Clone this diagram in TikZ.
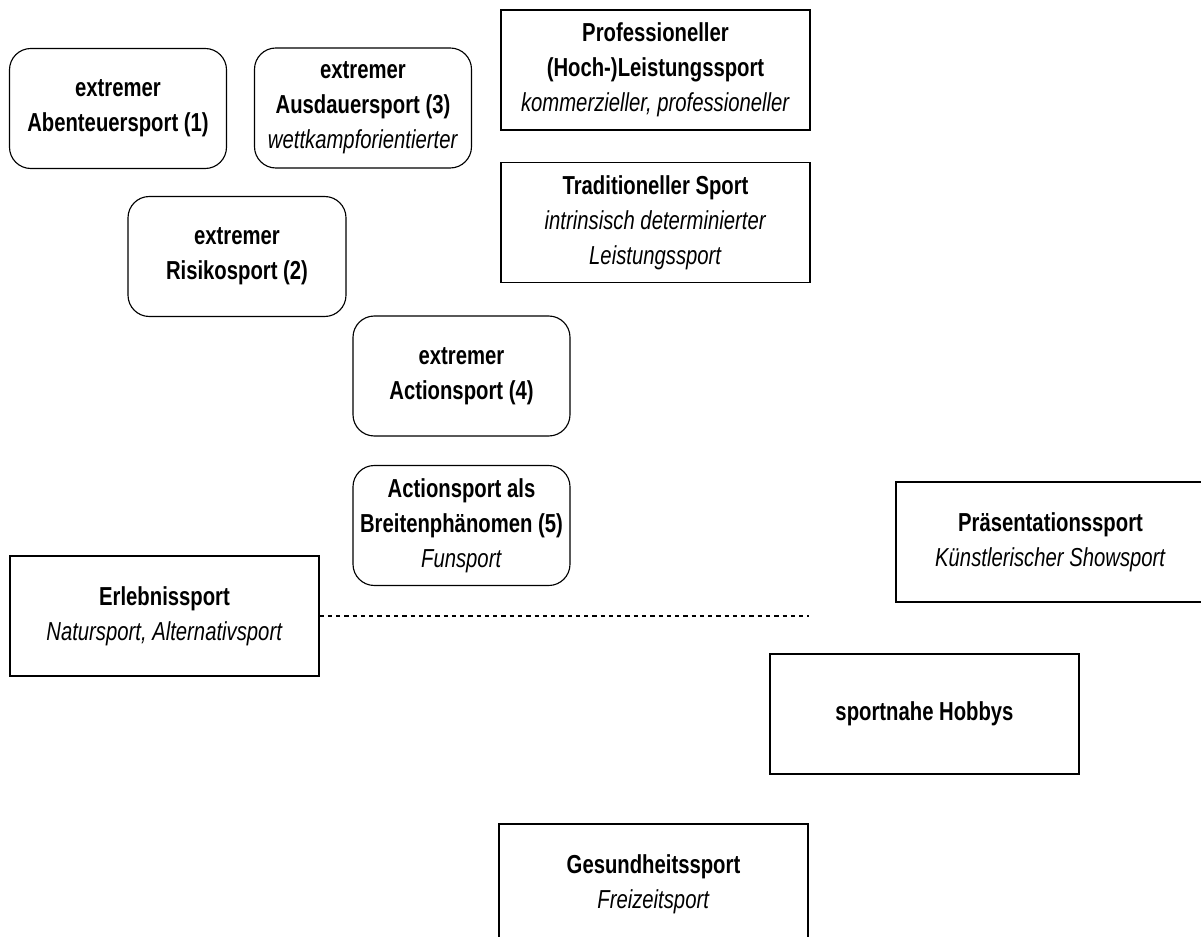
\documentclass[tikz,border=0pt]{standalone}
\usepackage{fontspec}
\setmainfont{Liberation Sans}[FakeStretch=0.78]
\begin{document}
\begin{tikzpicture}[x=0.75pt,y=-0.75pt,
  every node/.style={font=\fontsize{19.5pt}{26.25pt}\selectfont, align=center, inner sep=0pt},
  plainbox/.style={draw=black, line width=0.85pt, fill=white, minimum width=231.75pt, minimum height=90pt},
  roundbox/.style={draw=black, line width=0.85pt, fill=white, rounded corners=16pt, minimum width=162.75pt, minimum height=90pt},
  divider/.style={draw=black, line width=1pt, dash pattern=on 3.2pt off 3pt}]
  \useasboundingbox (0,0) rectangle (1201,937);
  \begin{scope}
  \clip (0,0) rectangle (1201,937);

  % extreme sports (rounded boxes)
  \node[roundbox] (abenteuer) at (118,108.5) {\textbf{extremer}\\\textbf{Abenteuersport (1)}};
  \node[roundbox] (ausdauer) at (363,108) {\textbf{extremer}\\\textbf{Ausdauersport (3)}\\\textit{wettkampforientierter}};
  \node[roundbox, minimum width=163.5pt] (risiko) at (237,256.5) {\textbf{extremer}\\\textbf{Risikosport (2)}};
  \node[roundbox] (action) at (461.5,376) {\textbf{extremer}\\\textbf{Actionsport (4)}};
  \node[roundbox] (breite) at (461.5,525.5) {\textbf{Actionsport als}\\\textbf{Breitenphänomen (5)}\\\textit{Funsport}};

  % other sport categories (plain boxes)
  \node[plainbox] (profi) at (655.5,70) {\textbf{Professioneller}\\\textbf{(Hoch-)Leistungssport}\\\textit{kommerzieller, professioneller}};
  \node[plainbox] (trad) at (655.5,222.5) {\textbf{Traditioneller Sport}\\\textit{intrinsisch determinierter}\\\textit{Leistungssport}};
  \node[plainbox] (erlebnis) at (164.5,616) {\textbf{Erlebnissport}\\\textit{Natursport, Alternativsport}};
  \node[plainbox] (praes) at (1050.5,542) {\textbf{Präsentationssport}\\\textit{Künstlerischer Showsport}};
  \node[plainbox] (hobby) at (924.5,714) {\textbf{sportnahe Hobbys}};
  \node[plainbox] (gesund) at (653.5,884) {\textbf{Gesundheitssport}\\\textit{Freizeitsport}};

  % dashed divider
  \coordinate (divend) at (809,616);
  \draw[divider] (erlebnis.east) -- (divend);
  \end{scope}
\end{tikzpicture}
\end{document}
